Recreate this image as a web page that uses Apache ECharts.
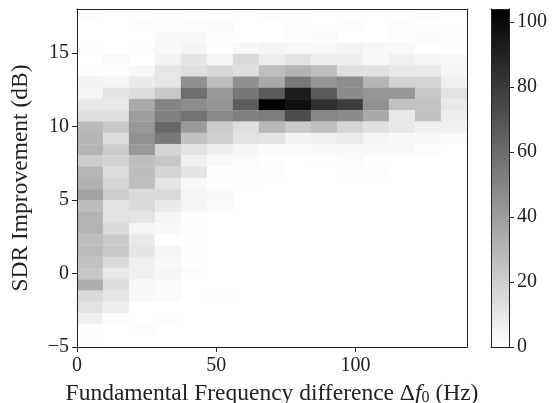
<!DOCTYPE html>
<html>
<head>
<meta charset="utf-8">
<style>html,body{margin:0;padding:0;background:#fff}#c{width:552px;height:403px}</style>
<script src="https://cdn.jsdelivr.net/npm/echarts@6/dist/echarts.min.js"></script>
</head>
<body>
<div id="c"></div>
<script>
const xRange = [0, 140];
const yRange = [-5, 18];
const xTicks = [0, 50, 100];
const yTicks = [-5, 0, 5, 10, 15];
const colorbarRange = [0, 104];
const colorbarTicks = [0, 20, 40, 60, 80, 100];
const xLabel = 'Fundamental Frequency difference';
const yLabel = 'SDR Improvement (dB)';
// counts per cell, first list is the top row of the plot
const counts = [
  [1,0,0,1,0,1,0,1,1,0,0,0,0,1,0],
  [0,0,1,1,1,2,0,0,1,0,1,0,1,0,0],
  [0,0,0,3,3,1,0,0,1,2,0,0,1,2,1],
  [1,0,1,3,4,1,3,4,3,3,5,3,3,1,1],
  [0,2,0,5,10,4,15,7,12,7,7,3,6,4,3],
  [1,1,3,10,13,16,13,26,31,26,13,12,9,9,4],
  [5,4,8,10,45,27,45,35,55,43,47,30,18,17,6],
  [4,11,14,22,59,42,55,67,93,67,47,43,43,23,12],
  [9,9,35,50,47,43,66,104,98,84,79,45,25,25,9],
  [13,13,40,52,57,48,52,53,73,49,47,35,9,25,7],
  [28,22,42,62,41,21,13,29,22,26,17,12,9,6,6],
  [30,14,45,55,25,20,12,11,5,6,8,4,3,3,2],
  [30,21,41,17,11,7,4,2,2,3,3,3,3,1,0],
  [21,18,27,23,6,3,2,1,0,1,2,0,0,0,0],
  [30,14,27,17,11,1,1,1,0,0,1,1,0,0,0],
  [32,17,26,11,3,1,1,0,0,0,0,0,0,0,0],
  [38,21,15,15,4,3,0,0,0,0,0,0,0,0,0],
  [27,12,15,8,4,2,0,0,0,0,0,0,0,0,0],
  [31,12,11,4,1,0,0,0,0,0,0,0,0,0,0],
  [31,15,4,3,1,0,0,0,0,0,0,0,0,0,0],
  [27,22,9,1,0,0,0,0,0,0,0,0,0,0,0],
  [28,23,10,4,1,0,0,0,0,0,0,0,0,0,0],
  [25,15,6,3,0,0,0,0,0,0,0,0,0,0,0],
  [23,9,6,4,1,0,0,0,0,0,0,0,0,0,0],
  [33,14,3,2,0,0,0,0,0,0,0,0,0,0,0],
  [15,11,3,2,0,1,0,0,0,0,0,0,0,0,0],
  [12,7,0,0,0,0,0,0,0,0,0,0,0,0,0],
  [6,1,0,1,0,0,0,0,0,0,0,0,0,0,0],
  [1,0,1,0,0,0,0,0,0,0,0,0,0,0,0],
  [1,0,0,0,0,0,0,0,0,0,0,0,0,0,0]
];

const font = 'Liberation Serif';
const ink = '#222';
const rowCount = counts.length;
const colCount = counts[0].length;
const cells = [];
counts.forEach((row, r) => row.forEach((v, c) => cells.push([c, rowCount - 1 - r, v])));
const xStep = (xRange[1] - xRange[0]) / colCount;
const yStep = (yRange[1] - yRange[0]) / rowCount;

function rectBetween(api, a, b, style) {
  const p0 = api.coord(a), p1 = api.coord(b);
  return {
    type: 'rect',
    shape: { x: p0[0], y: p1[1], width: p1[0] - p0[0], height: p0[1] - p1[1] },
    style: style
  };
}
function frameAxis(base, position, idx) {
  return Object.assign({}, base, {
    gridIndex: idx, position, z: 5,
    axisLine: { show: true, onZero: false, lineStyle: { color: ink, width: 1 } },
    axisTick: { show: false }, axisLabel: { show: false }, splitLine: { show: false }, name: ''
  });
}
const tickStyle = { show: true, length: 5, lineStyle: { color: ink, width: 1 } };
const labelStyle = { fontFamily: font, fontSize: 20, color: ink };
const lineStyle = { show: true, onZero: false, lineStyle: { color: ink, width: 1 } };

const xBase = { type: 'value', min: xRange[0], max: xRange[1] };
const yBase = { type: 'value', min: yRange[0], max: yRange[1] };
const cbX = { type: 'value', min: 0, max: 1 };
const cbY = { type: 'value', min: colorbarRange[0], max: colorbarRange[1] };

const chart = echarts.init(document.getElementById('c'), null, { renderer: 'canvas' });
chart.setOption({
  animation: false,
  backgroundColor: '#fff',
  textStyle: { fontFamily: font },
  grid: [
    { left: 77, top: 9, width: 390, height: 338, outerBoundsMode: 'none', containLabel: false },
    { left: 491, top: 9, width: 18, height: 338, outerBoundsMode: 'none', containLabel: false }
  ],
  xAxis: [
    Object.assign({}, xBase, {
      gridIndex: 0, position: 'bottom', z: 5,
      axisLine: lineStyle, axisTick: Object.assign({}, tickStyle, { customValues: xTicks }),
      axisLabel: Object.assign({}, labelStyle, { margin: 9, customValues: xTicks, hideOverlap: false }),
      splitLine: { show: false },
      name: xLabel + ' Δ{i|f}{s|0} (Hz)', nameLocation: 'middle', nameGap: 35,
      nameTextStyle: {
        fontFamily: font, fontSize: 23.5, color: ink,
        rich: {
          i: { fontFamily: font, fontStyle: 'italic', fontSize: 23.5, color: ink },
          s: { fontFamily: font, fontSize: 16, color: ink, verticalAlign: 'bottom', padding: [6, 0, 0, 0] }
        }
      }
    }),
    frameAxis(xBase, 'top', 0),
    frameAxis(cbX, 'bottom', 1),
    frameAxis(cbX, 'top', 1)
  ],
  yAxis: [
    Object.assign({}, yBase, {
      gridIndex: 0, position: 'left', z: 5,
      axisLine: lineStyle, axisTick: Object.assign({}, tickStyle, { customValues: yTicks }),
      axisLabel: Object.assign({}, labelStyle, {
        margin: 8, customValues: yTicks,
        formatter: v => (v < 0 ? '\u2212' + Math.abs(v) : String(v))
      }),
      splitLine: { show: false },
      name: yLabel, nameLocation: 'middle', nameGap: 44,
      nameTextStyle: { fontFamily: font, fontSize: 23.5, color: ink }
    }),
    frameAxis(yBase, 'right', 0),
    Object.assign({}, cbY, {
      gridIndex: 1, position: 'right', z: 5,
      axisLine: lineStyle, axisTick: Object.assign({}, tickStyle, { customValues: colorbarTicks }),
      axisLabel: Object.assign({}, labelStyle, { margin: 8, customValues: colorbarTicks }),
      splitLine: { show: false }
    }),
    frameAxis(cbY, 'left', 1)
  ],
  visualMap: {
    show: false, seriesIndex: 0, dimension: 2,
    min: colorbarRange[0], max: colorbarRange[1],
    inRange: { color: ['#ffffff', '#000000'] }
  },
  series: [
    {
      type: 'custom', xAxisIndex: 0, yAxisIndex: 0, silent: true, clip: true,
      data: cells,
      encode: { x: 0, y: 1 },
      renderItem: (params, api) => {
        const c = api.value(0), r = api.value(1);
        const color = api.visual('color');
        return rectBetween(api,
          [xRange[0] + c * xStep, yRange[0] + r * yStep],
          [xRange[0] + (c + 1) * xStep, yRange[0] + (r + 1) * yStep],
          { fill: color, stroke: color, lineWidth: 0.3 });
      }
    },
    {
      type: 'custom', xAxisIndex: 2, yAxisIndex: 2, silent: true, clip: true,
      data: [[0, colorbarRange[0]]],
      encode: { x: 0, y: 1 },
      renderItem: (params, api) => rectBetween(api,
        [0, colorbarRange[0]], [1, colorbarRange[1]],
        { fill: new echarts.graphic.LinearGradient(0, 1, 0, 0, [
          { offset: 0, color: '#ffffff' }, { offset: 1, color: '#000000' }
        ]) })
    }
  ]
});
</script>
</body>
</html>
